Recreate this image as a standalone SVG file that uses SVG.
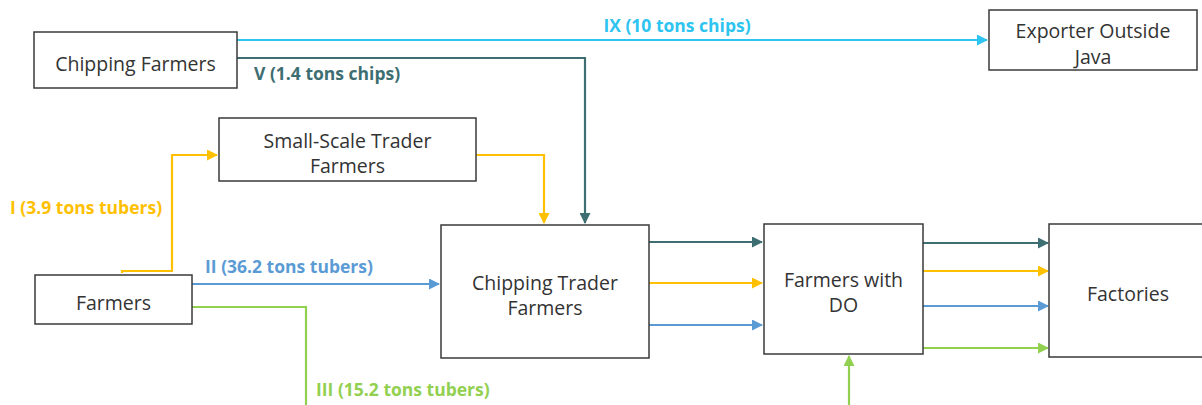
<svg xmlns="http://www.w3.org/2000/svg" width="1202" height="405" viewBox="0 0 1202 405">
<style>
.box{fill:#fff;stroke:#3a3a3a;stroke-width:1.5}
.t{font-family:"Open Sans","Noto Sans",sans-serif;font-size:19.5px;fill:#333;text-anchor:middle}
.lb{font-family:"Open Sans","Noto Sans",sans-serif;font-size:17.5px;font-weight:bold}
.c{fill:none;stroke-width:2.2}
</style>
<defs>
<marker id="aC" markerWidth="11" markerHeight="11" refX="10" refY="5.5" orient="auto" markerUnits="userSpaceOnUse"><path d="M0,0 L11,5.5 L0,11 z" fill="#2ec4f0"/></marker>
<marker id="aT" markerWidth="11" markerHeight="11" refX="10" refY="5.5" orient="auto" markerUnits="userSpaceOnUse"><path d="M0,0 L11,5.5 L0,11 z" fill="#3d6e72"/></marker>
<marker id="aY" markerWidth="11" markerHeight="11" refX="10" refY="5.5" orient="auto" markerUnits="userSpaceOnUse"><path d="M0,0 L11,5.5 L0,11 z" fill="#ffc000"/></marker>
<marker id="aB" markerWidth="11" markerHeight="11" refX="10" refY="5.5" orient="auto" markerUnits="userSpaceOnUse"><path d="M0,0 L11,5.5 L0,11 z" fill="#5b9bd5"/></marker>
<marker id="aG" markerWidth="11" markerHeight="11" refX="10" refY="5.5" orient="auto" markerUnits="userSpaceOnUse"><path d="M0,0 L11,5.5 L0,11 z" fill="#92d050"/></marker>
</defs>
<rect width="1202" height="405" fill="#fff"/>
<g id="connectors">
<path class="c" stroke="#2ec4f0" d="M237,40 H987" marker-end="url(#aC)"/>
<path class="c" stroke="#3d6e72" d="M237,58 H585 V223" marker-end="url(#aT)"/>
<path class="c" stroke="#ffc000" d="M122,273 V271 H172 V155 H217" marker-end="url(#aY)"/>
<path class="c" stroke="#ffc000" d="M476,155 H544 V223" marker-end="url(#aY)"/>
<path class="c" stroke="#5b9bd5" d="M192,284 H439" marker-end="url(#aB)"/>
<path class="c" stroke="#92d050" d="M192,307 H306 V405"/>
<path class="c" stroke="#3d6e72" d="M649,242 H762" marker-end="url(#aT)"/>
<path class="c" stroke="#ffc000" d="M649,283 H762" marker-end="url(#aY)"/>
<path class="c" stroke="#5b9bd5" d="M649,325 H762" marker-end="url(#aB)"/>
<path class="c" stroke="#92d050" d="M849,405 V356" marker-end="url(#aG)"/>
<path class="c" stroke="#3d6e72" d="M923,243 H1048" marker-end="url(#aT)"/>
<path class="c" stroke="#ffc000" d="M923,271 H1048" marker-end="url(#aY)"/>
<path class="c" stroke="#5b9bd5" d="M923,306 H1048" marker-end="url(#aB)"/>
<path class="c" stroke="#92d050" d="M923,348 H1048" marker-end="url(#aG)"/>
<text class="lb" fill="#2ec4f0" x="677" y="32" text-anchor="middle">IX (10 tons chips)</text>
<text class="lb" fill="#3d6e72" x="254" y="80">V (1.4 tons chips)</text>
<text class="lb" fill="#ffc000" x="10" y="214">I (3.9 tons tubers)</text>
<text class="lb" fill="#5b9bd5" x="205" y="273">II (36.2 tons tubers)</text>
<text class="lb" fill="#92d050" x="316" y="396">III (15.2 tons tubers)</text>
</g>
<g id="chipping-farmers"><rect class="box" x="34" y="32" width="203" height="56"/><text class="t" x="135.5" y="71">Chipping Farmers</text></g>
<g id="exporter"><rect class="box" x="989" y="10" width="208" height="60"/><text class="t" x="1093" y="38">Exporter Outside</text><text class="t" x="1093" y="64">Java</text></g>
<g id="small-scale"><rect class="box" x="219" y="118" width="257" height="63"/><text class="t" x="347.5" y="148">Small-Scale Trader</text><text class="t" x="347.5" y="173">Farmers</text></g>
<g id="farmers"><rect class="box" x="35" y="275" width="157" height="49"/><text class="t" x="113.5" y="310">Farmers</text></g>
<g id="chipping-trader"><rect class="box" x="441" y="225" width="208" height="133"/><text class="t" x="545" y="290">Chipping Trader</text><text class="t" x="545" y="315">Farmers</text></g>
<g id="farmers-do"><rect class="box" x="764" y="224" width="159" height="130"/><text class="t" x="843.5" y="287">Farmers with</text><text class="t" x="843.5" y="312">DO</text></g>
<g id="factories"><rect class="box" x="1049" y="224" width="160" height="133"/><text class="t" x="1128" y="301">Factories</text></g>
</svg>
